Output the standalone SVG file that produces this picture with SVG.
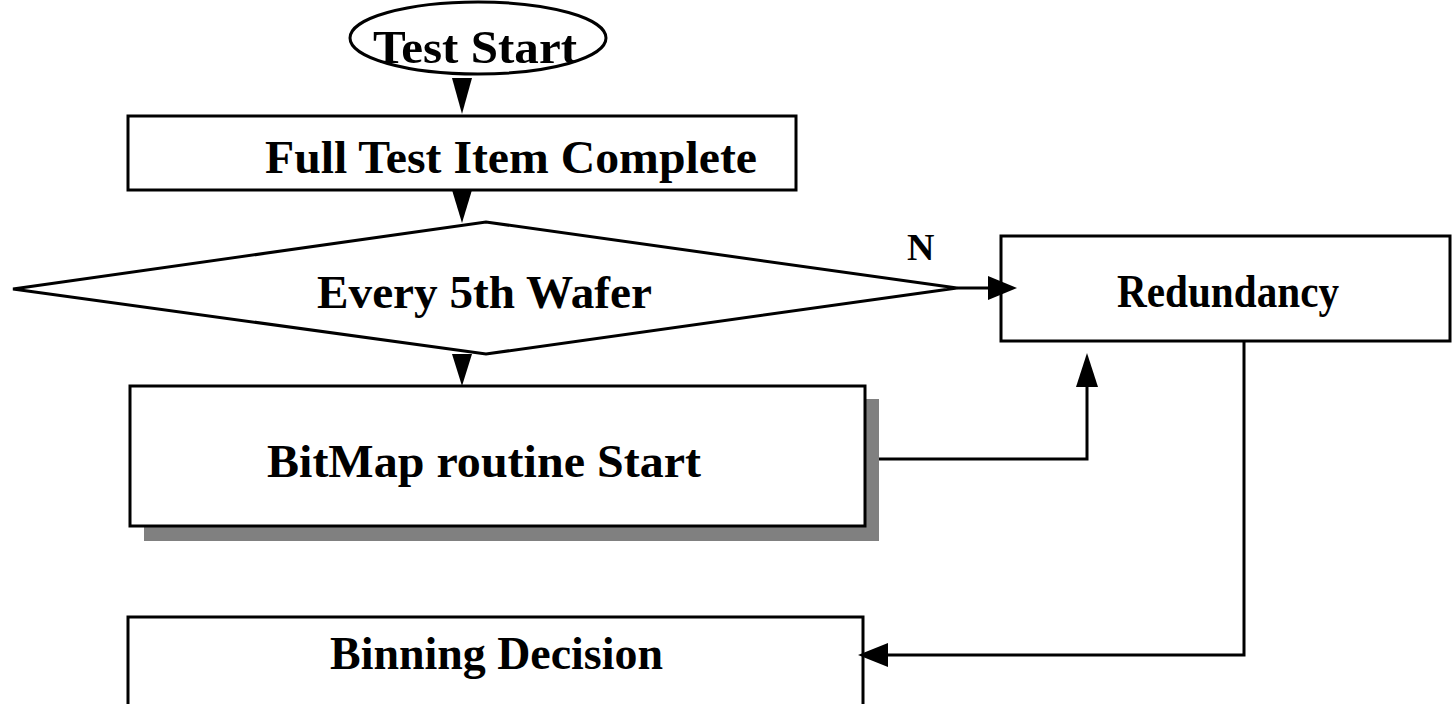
<svg xmlns="http://www.w3.org/2000/svg" width="1452" height="704" viewBox="0 0 1452 704">
  <style>
    .box { fill: #ffffff; stroke: #000000; stroke-width: 3; }
    .shadow { fill: #808080; stroke: none; }
    .line { fill: none; stroke: #000000; stroke-width: 3; }
    .head { fill: #000000; stroke: none; }
    .label { font-family: "Liberation Serif", "Times New Roman", serif; font-weight: bold; font-size: 47px; fill: #000000; }
    .small { font-size: 38px; }
  </style>

  <rect x="0" y="0" width="1452" height="704" fill="#ffffff"/>

  <g id="test-start">
    <ellipse class="box" cx="478" cy="38" rx="128" ry="36"/>
    <text class="label" x="373" y="63" textLength="204" lengthAdjust="spacingAndGlyphs">Test Start</text>
  </g>

  <g id="full-test">
    <rect class="box" x="128" y="116" width="668" height="74"/>
    <text class="label" x="265" y="173" textLength="492" lengthAdjust="spacingAndGlyphs">Full Test Item Complete</text>
  </g>

  <g id="every-5th">
    <polygon class="box" points="13,289 486,222 957,288 486,354"/>
    <text class="label" x="317" y="308" textLength="335" lengthAdjust="spacingAndGlyphs">Every 5th Wafer</text>
  </g>

  <g id="redundancy">
    <rect class="box" x="1001" y="236" width="449" height="105"/>
    <text class="label" x="1117" y="307" textLength="222" lengthAdjust="spacingAndGlyphs">Redundancy</text>
  </g>

  <g id="bitmap">
    <rect class="shadow" x="144" y="399" width="735" height="142"/>
    <rect class="box" x="130" y="386" width="735" height="140"/>
    <text class="label" x="267" y="477" textLength="434" lengthAdjust="spacingAndGlyphs">BitMap routine Start</text>
  </g>

  <g id="binning">
    <rect class="box" x="128" y="617" width="735" height="100"/>
    <text class="label" x="330" y="669" textLength="333" lengthAdjust="spacingAndGlyphs">Binning Decision</text>
  </g>

  <!-- connectors drawn last so arrowheads sit on top of the box edges -->
  <g id="connectors">
    <!-- start -> full test -->
    <polygon class="head" points="452,78 472,78 462,114"/>
    <!-- full test -> decision -->
    <polygon class="head" points="452,190 472,190 462,223"/>
    <!-- decision -> bitmap -->
    <polygon class="head" points="452,354 472,354 462,386"/>
    <!-- decision (N) -> redundancy -->
    <line class="line" x1="957" y1="288" x2="990" y2="288"/>
    <polygon class="head" points="988,276 988,300 1017,288"/>
    <text class="label small" x="907" y="260">N</text>
    <!-- bitmap -> redundancy -->
    <polyline class="line" points="879,459 1087,459 1087,385"/>
    <polygon class="head" points="1076,387 1098,387 1087,353"/>
    <!-- redundancy -> binning -->
    <polyline class="line" points="1244,341 1244,655 886,655"/>
    <polygon class="head" points="888,643 888,667 858,655"/>
  </g>
</svg>
